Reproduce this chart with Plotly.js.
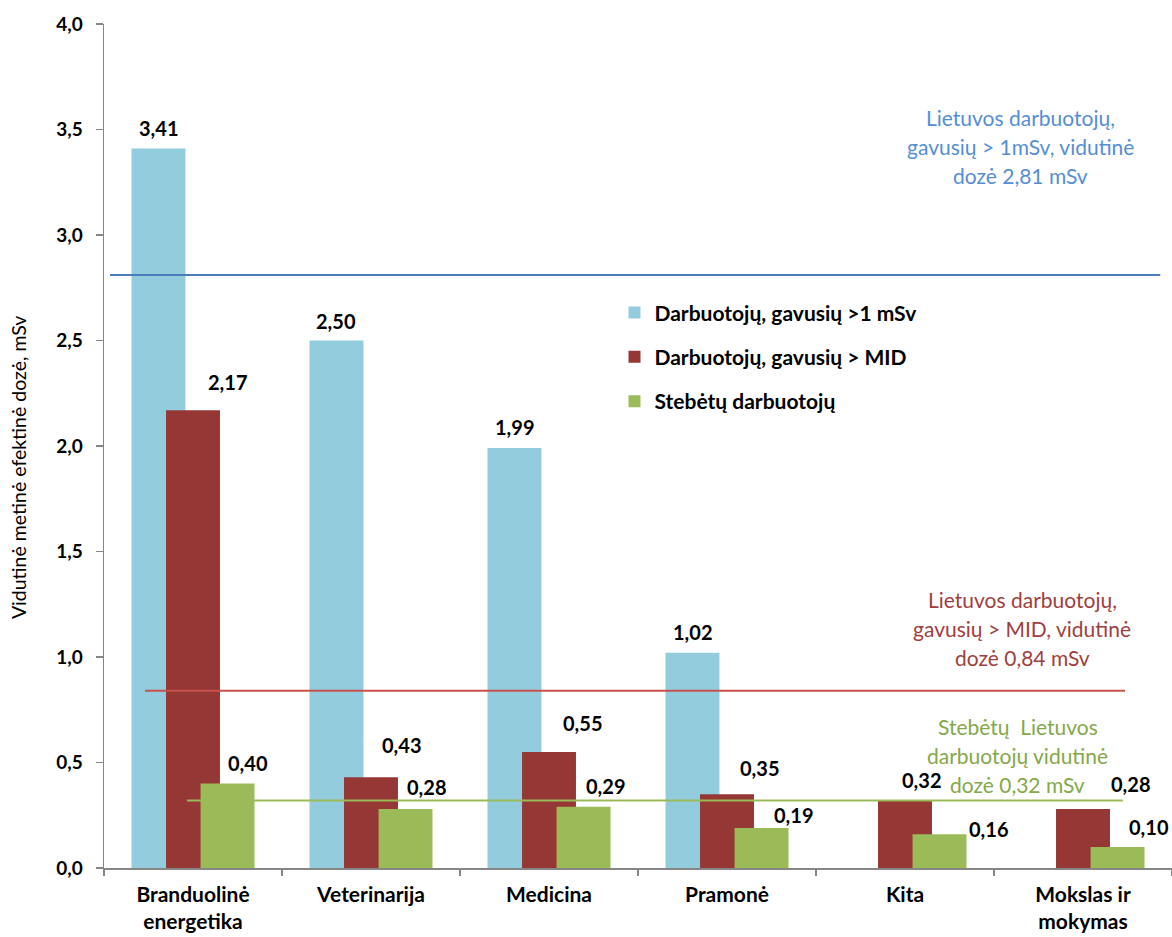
<!DOCTYPE html>
<html>
<head>
<meta charset="utf-8">
<script src="https://cdn.plot.ly/plotly-3.0.1.min.js"></script>
<style>
  html, body { margin: 0; padding: 0; background: #ffffff; }
  #chart { width: 1172px; height: 937px; }
</style>
</head>
<body>
<div id="chart"></div>
<script>
// Sectors (categories) and their axis labels
const categories = ['Branduolinė energetika', 'Veterinarija', 'Medicina', 'Pramonė', 'Kita', 'Mokslas ir mokymas'];
const tickLabels = ['Branduolinė<br>energetika', 'Veterinarija', 'Medicina', 'Pramonė', 'Kita', 'Mokslas ir<br>mokymas'];

// Series names
const seriesNames = ['Darbuotojų, gavusių >1 mSv', 'Darbuotojų, gavusių > MID', 'Stebėtų darbuotojų'];

// Mean annual effective dose, mSv
const over1mSv  = [3.41, 2.50, 1.99, 1.02, null, null];
const overMID   = [2.17, 0.43, 0.55, 0.35, 0.32, 0.28];
const monitored = [0.40, 0.28, 0.29, 0.19, 0.16, 0.10];

// National averages (mSv) and their captions
const avgValues = [2.81, 0.84, 0.32];
const avgCaptions = [
  ['Lietuvos darbuotojų,', 'gavusių > 1mSv, vidutinė'],
  ['Lietuvos darbuotojų,', 'gavusių > MID, vidutinė'],
  ['Stebėtų  Lietuvos', 'darbuotojų vidutinė']
];

// ---- styling ----
const FONT = 'Lato, "Open Sans", Arial, sans-serif';
const barColors = ['#93CDDD', '#953735', '#9BBB59'];
const lineColors = ['#4A7EBB', '#C8504D', '#9BBB59'];
const captionColors = ['#558ED5', '#A0403E', '#84A84A'];
const BAR_W = 0.303;               // bar width, category units
const STEP = 0.194;                // distance between neighbouring bars in a group
const centers = [-STEP, 0, STEP];  // bar centre offsets within a group

// label nudges [dx px, height above bar top px]
const labelNudge = [
  [[0, 20], [0, 20], [0, 21], [0, 21], [0, 20], [0, 20]],
  [[34, 28], [30, 32], [33, 29], [32, 26], [16, 20], [47, 25]],
  [[20, 21], [21, 22], [22, 21], [32, 13], [49, 5], [31, 20]]
];
// horizontal extents of the average lines (paper fraction)
const lineSpan = [[0.0056, 0.989], [0.0384, 0.956], [0.0777, 0.954]];
// caption placement: centre x (paper), first line y (paper)
const captionPos = [[0.8577, 0.889], [0.8596, 0.318], [0.8558, 0.168]];
const CAPTION_LH = 29 / 844;       // line step in paper units

const fmt = (v, d) => v.toFixed(d).replace('.', ',');

const series = [over1mSv, overMID, monitored];
const idx = categories.map((_, i) => i);

const traces = series.map((vals, s) => ({
  type: 'bar',
  name: seriesNames[s],
  legendgroup: 'g' + s,
  x: categories,
  y: vals,
  width: BAR_W,
  offset: centers[s] - BAR_W / 2,
  marker: { color: barColors[s], line: { width: 0 } },
  hoverinfo: 'x+y'
}));

const annotations = [];
series.forEach((vals, s) => {
  vals.forEach((v, i) => {
    if (v === null) return;
    annotations.push({
      x: idx[i] + centers[s], xref: 'x',
      y: v, yref: 'y',
      text: fmt(v, 2),
      showarrow: false,
      xanchor: 'center', yanchor: 'middle',
      xshift: labelNudge[s][i][0], yshift: labelNudge[s][i][1],
      font: { family: FONT, size: 20, color: '#000000', weight: 'bold' }
    });
  });
});

const shapes = avgValues.map((v, k) => ({
  type: 'line', xref: 'paper', yref: 'y',
  x0: lineSpan[k][0], x1: lineSpan[k][1], y0: v, y1: v,
  line: { color: lineColors[k], width: 2 },
  layer: 'above'
}));

avgValues.forEach((v, k) => {
  const lines = avgCaptions[k].concat(['dozė ' + fmt(v, 2) + ' mSv']);
  lines.forEach((t, j) => {
    annotations.push({
      x: captionPos[k][0], xref: 'paper',
      y: captionPos[k][1] - j * CAPTION_LH, yref: 'paper',
      text: t, showarrow: false,
      xanchor: 'center', yanchor: 'middle',
      font: { family: FONT, size: 21, color: captionColors[k] }
    });
  });
});

// vertical axis title
annotations.push({
  x: -86 / 1068, xref: 'paper', y: 0.475, yref: 'paper',
  text: 'Vidutinė metinė efektinė dozė, mSv',
  textangle: -90, showarrow: false,
  xanchor: 'center', yanchor: 'middle',
  font: { family: FONT, size: 19.5, color: '#000000' }
});

const layout = {
  width: 1172, height: 937,
  margin: { l: 104, r: 0, t: 24, b: 69 },
  paper_bgcolor: '#ffffff', plot_bgcolor: '#ffffff',
  separators: ',.',
  barmode: 'overlay',
  showlegend: true,
  legend: {
    x: 0.478, y: 0.682, xanchor: 'left', yanchor: 'top',
    traceorder: 'grouped', tracegroupgap: 14,
    bgcolor: 'rgba(0,0,0,0)',
    font: { family: FONT, size: 21, color: '#000000', weight: 'bold' }
  },
  xaxis: {
    type: 'category',
    range: [-0.5, 5.5],
    tickmode: 'array', tickvals: categories, ticktext: tickLabels,
    tickson: 'boundaries', ticks: 'outside', ticklen: 6, tickcolor: '#868686', tickwidth: 1.5,
    ticklabelstandoff: 7,
    showline: true, linecolor: '#868686', linewidth: 1.5,
    showgrid: false, zeroline: false, fixedrange: true,
    tickfont: { family: FONT, size: 21, color: '#000000', weight: 'bold' }
  },
  yaxis: {
    range: [0, 4], dtick: 0.5, tick0: 0, tickformat: '.1f',
    ticks: 'outside', ticklen: 7, tickcolor: '#868686', tickwidth: 1.5,
    ticklabelstandoff: 9,
    showline: true, linecolor: '#868686', linewidth: 1.5,
    showgrid: false, zeroline: false, fixedrange: true,
    tickfont: { family: FONT, size: 19, color: '#000000', weight: 'bold' }
  },
  shapes: shapes,
  annotations: annotations
};

Plotly.newPlot('chart', traces, layout, { displayModeBar: false, staticPlot: true });
</script>
</body>
</html>
